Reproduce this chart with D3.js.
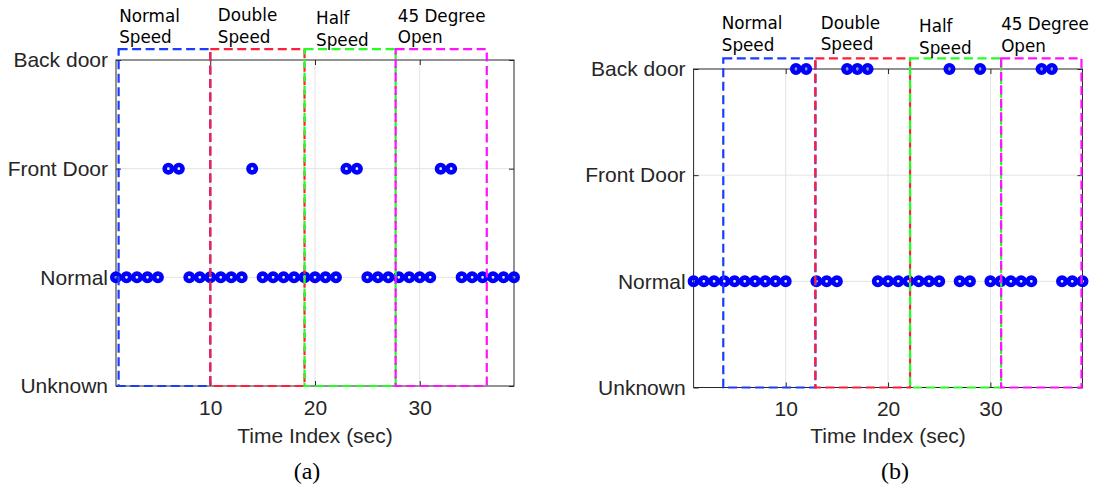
<!DOCTYPE html>
<html>
<head>
<meta charset="utf-8">
<script src="https://cdn.jsdelivr.net/npm/d3@7"></script>
<style>
  html, body { margin: 0; padding: 0; background: #ffffff; }
  svg { display: block; }
</style>
</head>
<body>
<svg id="chart" width="1093" height="491"></svg>
<script>
// ---------------- DATA ----------------
const categories = ["Unknown", "Normal", "Front Door", "Back door"];
const xTicks = [10, 20, 30];
const timeIndex = [1,2,3,4,5,6,7,8,9,10,11,12,13,14,15,16,17,18,19,20,21,22,23,24,25,26,27,28,29,30,31,32,33,34,35,36,37,38,39];

// panel (a) detected state per second
const stateA = [
  "Normal","Normal","Normal","Normal","Normal","Front Door","Front Door","Normal","Normal","Normal",
  "Normal","Normal","Normal","Front Door","Normal","Normal","Normal","Normal","Normal","Normal",
  "Normal","Normal","Front Door","Front Door","Normal","Normal","Normal","Normal","Normal","Normal",
  "Normal","Front Door","Front Door","Normal","Normal","Normal","Normal","Normal","Normal"
];
// panel (b) detected state per second
const stateB = [
  "Normal","Normal","Normal","Normal","Normal","Normal","Normal","Normal","Normal","Normal",
  "Back door","Back door","Normal","Normal","Normal","Back door","Back door","Back door","Normal","Normal",
  "Normal","Normal","Normal","Normal","Normal","Back door","Normal","Normal","Back door","Normal",
  "Normal","Normal","Normal","Normal","Back door","Back door","Normal","Normal","Normal"
];

// scenario regions (time index start / end) and their labels
const regionNames = [["Normal", "Speed"], ["Double", "Speed"], ["Half", "Speed"], ["45 Degree", "Open"]];
const regionStartA = [1.25, 10.0, 19.0, 27.7];
const regionEndA   = [10.0, 19.0, 27.7, 36.4];
const regionStartB = [3.9, 12.9, 22.15, 31.05];
const regionEndB   = [12.9, 22.15, 31.05, 38.9];
const regionTop = 4.1;
const labelXA = [1.3, 10.72, 20.1, 27.9];
const labelYA = [4.35, 4.356, 4.33, 4.35];
const labelXB = [3.75, 13.42, 23.03, 31.05];
const labelYB = [4.374, 4.38, 4.346, 4.367];
const panelLetters = ["(a)", "(b)"];
const xLabel = "Time Index (sec)";

// ---------------- STYLE ----------------
const regionColors = ["#1a3cff", "#ff1e3c", "#22ff22", "#ff10ff"];
const markerColor = "#0000ff";
const axisColor = "#262626";
const gridColor = "#e3e3e3";
const sansFont = "'Liberation Sans', Arial, sans-serif";
const annFont = "'DejaVu Sans', Verdana, sans-serif";
const serifFont = "'Liberation Serif', 'Times New Roman', serif";

const svg = d3.select("#chart");

function drawPanel(cfg) {
  const g = svg.append("g");
  const x = d3.scaleLinear().domain([1, 39]).range([cfg.left, cfg.right]);
  const y = d3.scaleLinear().domain([1, 4]).range([cfg.bottom, cfg.top]);

  // grid
  g.selectAll(".gx").data(xTicks).join("line")
    .attr("x1", d => x(d)).attr("x2", d => x(d))
    .attr("y1", cfg.top).attr("y2", cfg.bottom)
    .attr("stroke", gridColor).attr("stroke-width", 1);
  g.selectAll(".gy").data([2, 3]).join("line")
    .attr("x1", cfg.left).attr("x2", cfg.right)
    .attr("y1", d => y(d)).attr("y2", d => y(d))
    .attr("stroke", gridColor).attr("stroke-width", 1);

  // box
  g.append("rect")
    .attr("x", cfg.left).attr("y", cfg.top)
    .attr("width", cfg.right - cfg.left).attr("height", cfg.bottom - cfg.top)
    .attr("fill", "none").attr("stroke", axisColor).attr("stroke-width", 1);

  // x axis (bottom) with inward ticks
  const xAxis = d3.axisBottom(x).tickValues(xTicks).tickSize(-5).tickPadding(14).tickFormat(d3.format("d"));
  const xa = g.append("g").attr("transform", `translate(0,${cfg.bottom})`).call(xAxis);
  xa.select(".domain").remove();
  xa.selectAll("line").attr("stroke", axisColor);
  xa.selectAll("text").attr("font-family", sansFont).attr("font-size", 21).attr("fill", axisColor)
    .attr("dy", "0.71em");
  // top ticks
  const xTop = d3.axisTop(x).tickValues(xTicks).tickSize(-5).tickFormat("");
  const xt = g.append("g").attr("transform", `translate(0,${cfg.top})`).call(xTop);
  xt.select(".domain").remove();
  xt.selectAll("line").attr("stroke", axisColor);

  // y axis (left) with inward ticks and category labels
  const yAxis = d3.axisLeft(y).tickValues([1, 2, 3, 4]).tickSize(-5).tickPadding(8)
    .tickFormat(d => categories[d - 1]);
  const ya = g.append("g").attr("transform", `translate(${cfg.left},0)`).call(yAxis);
  ya.select(".domain").remove();
  ya.selectAll("line").attr("stroke", axisColor);
  ya.selectAll("text").attr("font-family", sansFont).attr("font-size", 21).attr("fill", axisColor);
  const yRight = d3.axisRight(y).tickValues([1, 2, 3, 4]).tickSize(-5).tickFormat("");
  const yr = g.append("g").attr("transform", `translate(${cfg.right},0)`).call(yRight);
  yr.select(".domain").remove();
  yr.selectAll("line").attr("stroke", axisColor);

  // markers
  const pts = timeIndex.map((t, i) => ({ t: t, v: categories.indexOf(cfg.states[i]) + 1 }));
  g.selectAll(".pt").data(pts).join("circle")
    .attr("cx", d => x(d.t)).attr("cy", d => y(d.v))
    .attr("r", 3.7).attr("fill", "none")
    .attr("stroke", markerColor).attr("stroke-width", 4.6);

  // dashed scenario regions
  cfg.starts.forEach((s, i) => {
    g.append("rect")
      .attr("x", x(s)).attr("y", y(regionTop))
      .attr("width", x(cfg.ends[i]) - x(s))
      .attr("height", y(1) - y(regionTop))
      .attr("fill", "none")
      .attr("stroke", regionColors[i]).attr("stroke-width", 2.2)
      .attr("stroke-dasharray", "9,4.5");
  });

  // region labels
  regionNames.forEach((lines, i) => {
    const t = g.append("text")
      .attr("x", x(cfg.labelX[i])).attr("y", y(cfg.labelY[i]))
      .attr("font-family", annFont).attr("font-size", 16.8).attr("fill", "#000");
    lines.forEach((ln, k) => {
      t.append("tspan").attr("x", x(cfg.labelX[i])).attr("dy", k === 0 ? 0 : 21.5).text(ln);
    });
  });

  // x axis label
  g.append("text")
    .attr("x", (cfg.left + cfg.right) / 2).attr("y", 443)
    .attr("text-anchor", "middle")
    .attr("font-family", sansFont).attr("font-size", 21).attr("fill", axisColor)
    .text(xLabel);

  // panel letter
  g.append("text")
    .attr("x", cfg.letterX).attr("y", 479)
    .attr("text-anchor", "middle")
    .attr("font-family", serifFont).attr("font-size", 24).attr("fill", "#000")
    .text(cfg.letter);
}

drawPanel({
  left: 116, right: 514, top: 60, bottom: 386,
  states: stateA, starts: regionStartA, ends: regionEndA,
  labelX: labelXA, labelY: labelYA, letter: panelLetters[0], letterX: 307
});
drawPanel({
  left: 693.6, right: 1082.5, top: 69, bottom: 387.5,
  states: stateB, starts: regionStartB, ends: regionEndB,
  labelX: labelXB, labelY: labelYB, letter: panelLetters[1], letterX: 895
});
</script>
</body>
</html>
